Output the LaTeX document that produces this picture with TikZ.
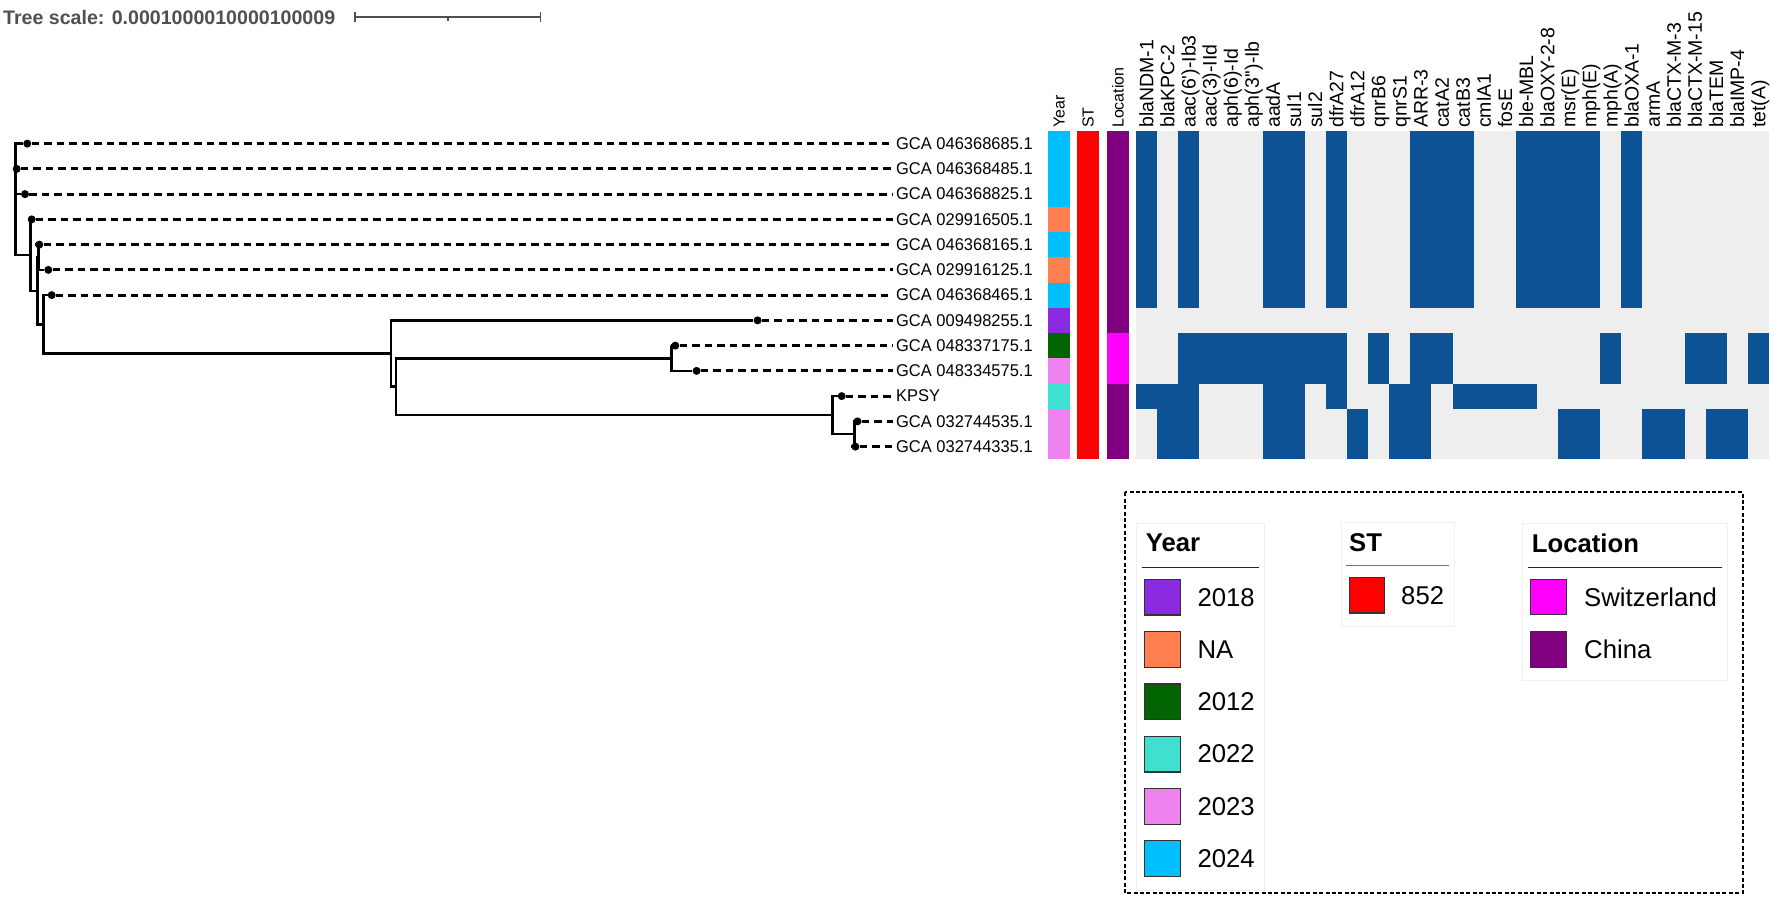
\documentclass[tikz,border=0pt]{standalone}
\usepackage{fontspec}
\setmainfont{Liberation Sans}
\newfontfamily\lblfont[FakeStretch=0.97]{Liberation Sans}
\newfontfamily\hdrfont{Liberation Sans}
\newfontfamily\lgfont{Liberation Sans}
\definecolor{hblue}{RGB}{13,82,148}
\definecolor{hgrey}{RGB}{238,238,238}
\definecolor{c2018}{RGB}{138,43,226}
\definecolor{cNA}{RGB}{255,127,80}
\definecolor{c2012}{RGB}{0,100,0}
\definecolor{c2022}{RGB}{64,224,208}
\definecolor{c2023}{RGB}{238,130,238}
\definecolor{c2024}{RGB}{0,191,255}
\definecolor{cST}{RGB}{255,0,0}
\definecolor{cSwiss}{RGB}{255,0,255}
\definecolor{cChina}{RGB}{128,0,128}
\definecolor{scalegray}{RGB}{80,80,80}
\definecolor{faint}{RGB}{240,240,240}
\begin{document}
\begin{tikzpicture}[x=1pt,y=-1pt,
  branch/.style={line width=2.5pt, black},
  leafdash/.style={line width=3pt, black, dash pattern=on 7.5pt off 5pt},
  leafdot/.style={circle, fill=black, inner sep=0pt, minimum size=8pt},
  leaflabel/.style={font=\lblfont\fontsize{17}{18}\selectfont, inner sep=0pt, outer sep=3.6pt, anchor=west},
  hdr/.style={font=\hdrfont\fontsize{19.5}{20}\selectfont, rotate=90, anchor=base west, inner sep=0pt},
  hdrsmall/.style={font=\hdrfont\fontsize{16}{17}\selectfont, rotate=90, anchor=base west, inner sep=0pt},
  scalebar/.style={line width=1.5pt, scalegray},
  lgborder/.style={line width=2.2pt, black, dash pattern=on 4pt off 2.4pt},
  lgbox/.style={line width=1pt, faint},
  lgrule/.style={line width=1.3pt, black!85},
  lgtitle/.style={font=\lgfont\bfseries\fontsize{25.7}{27}\selectfont, anchor=base west, inner sep=0pt},
  lgitem/.style={font=\lgfont\fontsize{25.7}{27}\selectfont, anchor=west, inner sep=0pt},
  swatch/.style={rectangle, draw=black!80, line width=1.2pt, minimum width=35.7pt, minimum height=35.7pt, inner sep=0pt}
]
\useasboundingbox (0,0) rectangle (1772,897);

% ---- tree scale ----
\node[font=\bfseries\fontsize{19.6}{20}\selectfont, text=scalegray, anchor=west, inner sep=0pt] (ts) at (3,17.5) {Tree scale: 0.0001000010000100009};
\coordinate (sbL) at (355,17);
\coordinate (sbR) at (540.4,17);
\coordinate (sbM) at (447.8,17);
\draw[scalebar] (sbL) -- (sbR);
\draw[scalebar] ([yshift=5.2pt]sbL) -- ([yshift=-5.2pt]sbL);
\draw[scalebar] ([yshift=5.2pt]sbR) -- ([yshift=-5.2pt]sbR);
\draw[scalebar] (sbM) -- ([yshift=-3.6pt]sbM);

% ---- leaves ----
\foreach \i/\dx/\lbl in {0/27.3/GCA 046368685.1, 1/16.7/GCA 046368485.1, 2/25/GCA 046368825.1,
  3/31.7/GCA 029916505.1, 4/39.3/GCA 046368165.1, 5/48.3/GCA 029916125.1, 6/51.7/GCA 046368465.1,
  7/757.6/GCA 009498255.1, 8/675.3/GCA 048337175.1, 9/696.6/GCA 048334575.1, 10/841.7/KPSY,
  11/857.5/GCA 032744535.1, 12/855.4/GCA 032744335.1}{
  \node[leafdot] (d\i) at (\dx,{131+25.25*(\i+0.5)}) {};
  \node[leaflabel] (l\i) at (892.5,{131+25.25*(\i+0.5)}) {\lbl};
  \draw[leafdash] (d\i) -- (d\i -| l\i.west);
}

% ---- internal nodes ----
\coordinate (nR) at (15.7,199.4);
\coordinate (nG) at (30.7,255.1);
\coordinate (nF) at (37.3,290.8);
\coordinate (nA) at (38.3,257.25);
\coordinate (nD) at (43.3,324.3);
\coordinate (nE) at (391,353.5);
\coordinate (nH) at (396,386.65);
\coordinate (nI) at (671.4,358.25);
\coordinate (nJ) at (832.3,415.05);
\coordinate (nK) at (854.7,434);

\draw[branch] (nR) |- (d0);
\draw[branch] (nR) |- (d1);
\draw[branch] (nR) |- (d2);
\draw[branch] (nR) |- (nG);
\draw[branch] (nG) |- (d3);
\draw[branch] (nG) |- (nF);
\draw[branch] (nF) |- (nA);
\draw[branch] (nF) |- (nD);
\draw[branch] (nA) |- (d4);
\draw[branch] (nA) |- (d5);
\draw[branch] (nD) |- (d6);
\draw[branch] (nD) |- (nE);
\draw[branch] (nE) |- (d7);
\draw[branch] (nE) |- (nH);
\draw[branch] (nH) |- (nI);
\draw[branch] (nH) |- (nJ);
\draw[branch] (nI) |- (d8);
\draw[branch] (nI) |- (d9);
\draw[branch] (nJ) |- (d10);
\draw[branch] (nJ) |- (nK);
\draw[branch] (nK) |- (d11);
\draw[branch] (nK) |- (d12);

% ---- annotation strips ----
\foreach \i/\c in {0/c2024,1/c2024,2/c2024,3/cNA,4/c2024,5/cNA,6/c2024,7/c2018,8/c2012,9/c2023,10/c2022,11/c2023,12/c2023}{
  \fill[\c] (1048,{131+25.25*\i}) rectangle (1070,{131+25.25*(\i+1)});
}
\fill[cST] (1077,131) rectangle (1099,459.25);
\fill[cChina] (1107,131) rectangle (1129,333);
\fill[cSwiss] (1107,333) rectangle (1129,383.5);
\fill[cChina] (1107,383.5) rectangle (1129,459.25);

\node[hdrsmall] (hYear) at (1064.6,128) {Year};
\node[hdrsmall] (hST) at (1093.6,128) {ST};
\node[hdrsmall] (hLoc) at (1123.6,128) {Location};

% ---- heatmap ----
\fill[hgrey] (1136,131) rectangle (1769,459.25);
\foreach \ra/\rb/\ca/\cb in {0/7/0/0, 0/7/2/2, 0/7/6/7, 0/7/9/9, 0/7/13/15, 0/7/18/21, 0/7/23/23,
  8/10/2/9, 8/10/11/11, 8/10/13/14, 8/10/22/22, 8/10/26/27, 8/10/29/29,
  10/11/0/2, 10/11/6/7, 10/11/9/9, 10/11/12/13, 10/11/15/18,
  11/13/1/2, 11/13/6/7, 11/13/10/10, 11/13/12/13, 11/13/20/21, 11/13/24/25, 11/13/27/28}{
  \fill[hblue] ({1136+21.1*\ca},{131+25.25*\ra}) rectangle ({1136+21.1*(\cb+1)},{131+25.25*\rb});
}
\foreach \k/\g in {0/blaNDM-1, 1/blaKPC-2, 2/aac(6')-Ib3, 3/aac(3)-IId, 4/aph(6)-Id, 5/aph(3'')-Ib,
  6/aadA, 7/sul1, 8/sul2, 9/dfrA27, 10/dfrA12, 11/qnrB6, 12/qnrS1, 13/ARR-3, 14/catA2, 15/catB3,
  16/cmlA1, 17/fosE, 18/ble-MBL, 19/blaOXY-2-8, 20/msr(E), 21/mph(E), 22/mph(A), 23/blaOXA-1,
  24/armA, 25/blaCTX-M-3, 26/blaCTX-M-15, 27/blaTEM, 28/blaIMP-4, 29/tet(A)}{
  \node[hdr] (g\k) at ({1136+21.1*(\k+0.5)+6.8},128) {\g};
}

% ---- legend ----
\coordinate (lgA) at (1125,492.3);
\coordinate (lgB) at (1742.7,893.3);
\draw[lgborder] (lgA) rectangle (lgB);
\draw[lgbox] (1136.7,523.3) rectangle (1264,890);
\draw[lgbox] (1341,522.3) rectangle (1454.3,626.7);
\draw[lgbox] (1522.3,523.3) rectangle (1727.3,680);

\node[lgtitle] (tYear) at (1145.7,551.7) {Year};
\draw[lgrule] (1141.7,567.3) -- (1259,567.3);
\node[lgtitle] (tST) at (1349,551) {ST};
\draw[lgrule, black!55] (1346,565.7) -- (1449,565.7);
\node[lgtitle] (tLoc) at (1531.7,552.7) {Location};
\draw[lgrule] (1527.7,567.3) -- (1722.3,567.3);

\foreach \j/\c/\t in {0/c2018/2018, 1/cNA/NA, 2/c2012/2012, 3/c2022/2022, 4/c2023/2023, 5/c2024/2024}{
  \node[swatch, fill=\c] (sy\j) at (1162.5,{597.2+52.3*\j}) {};
  \node[lgitem] (ty\j) at (1197.3,{597.2+52.3*\j}) {\t};
}
\node[swatch, fill=cST] (sst) at (1367,595.2) {};
\node[lgitem] (tst) at (1401,595.2) {852};
\node[swatch, fill=cSwiss] (ssw) at (1548.5,597) {};
\node[lgitem] (tsw) at (1584,597) {Switzerland};
\node[swatch, fill=cChina] (sch) at (1548.5,649.3) {};
\node[lgitem] (tch) at (1584,649.3) {China};
\end{tikzpicture}
\end{document}
